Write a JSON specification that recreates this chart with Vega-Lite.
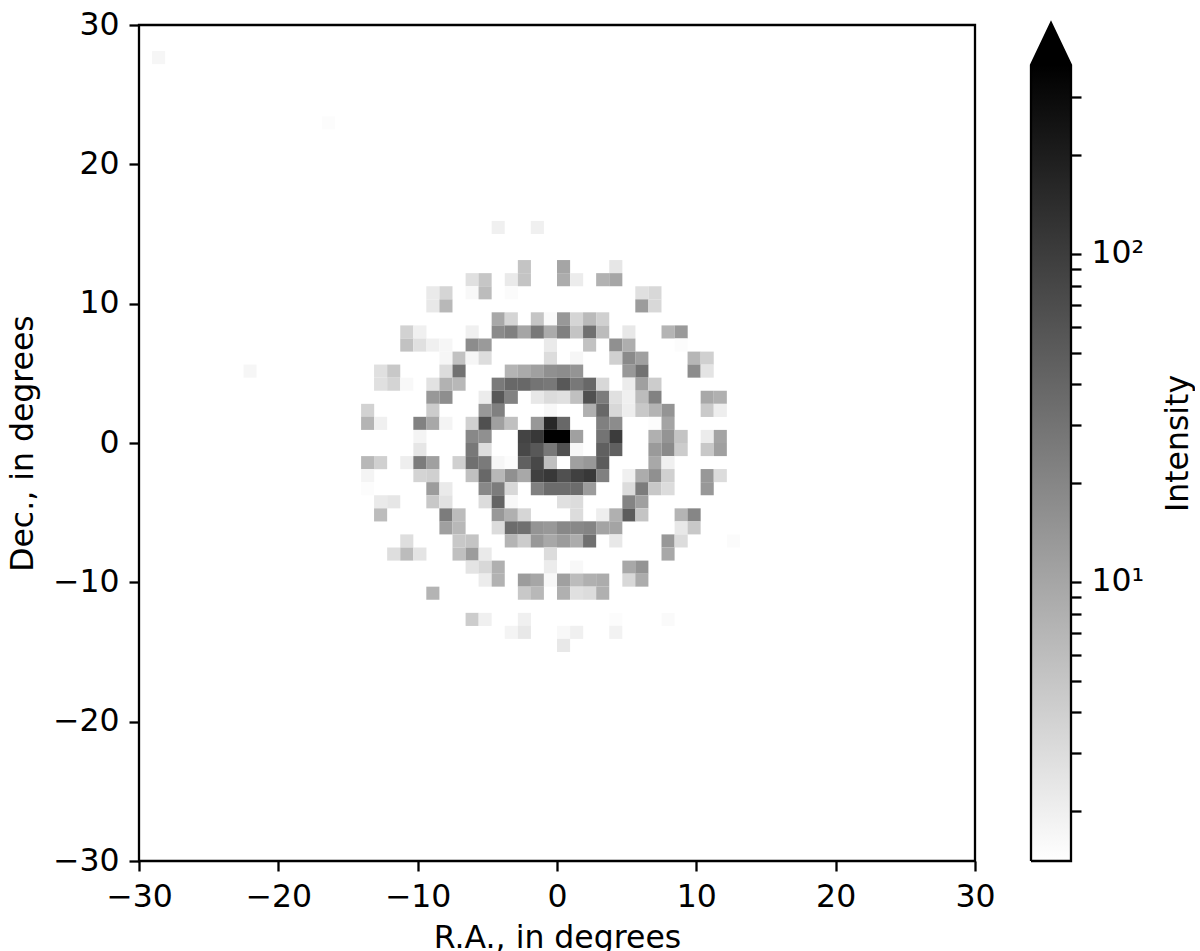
{"$schema":"https://vega.github.io/schema/vega-lite/v6.json","background":"white","padding":{"left":6,"top":7,"right":0,"bottom":0},"spacing":29,"config":{"font":"DejaVu Sans","view":{"stroke":null},"axis":{"labelFont":"DejaVu Sans","titleFont":"DejaVu Sans","labelFontSize":31.5,"titleFontSize":31.5,"labelColor":"#000000","titleColor":"#000000","titleFontWeight":"normal","tickColor":"#000000","domainColor":"#000000","tickWidth":2.3,"domainWidth":2.3,"tickSize":10,"grid":false,"labelPadding":10}},"hconcat":[{"width":836,"height":836,"view":{"stroke":"#000000","strokeWidth":2.3,"fill":"#ffffff"},"data":{"values":[
{"ra":-28.59,"dec":27.66,"i":1.72},{"ra":-16.41,"dec":22.97,"i":1.5},{"ra":-4.22,"dec":15.47,"i":1.96},{"ra":-1.41,"dec":15.47,"i":1.96},
{"ra":-2.34,"dec":12.66,"i":5.14},{"ra":0.47,"dec":12.66,"i":10.15},{"ra":4.22,"dec":12.66,"i":2.44},
{"ra":-6.09,"dec":11.72,"i":2.78},{"ra":-5.16,"dec":11.72,"i":4.92},{"ra":-3.28,"dec":11.72,"i":2.23},{"ra":-2.34,"dec":11.72,"i":5.14},{"ra":0.47,"dec":11.72,"i":8.7},{"ra":1.41,"dec":11.72,"i":2.14},{"ra":3.28,"dec":11.72,"i":7.63},{"ra":4.22,"dec":11.72,"i":9.93},
{"ra":-8.91,"dec":10.78,"i":2.23},{"ra":-7.97,"dec":10.78,"i":3.54},{"ra":-6.09,"dec":10.78,"i":1.64},{"ra":-5.16,"dec":10.78,"i":6.13},{"ra":-3.28,"dec":10.78,"i":1.55},{"ra":6.09,"dec":10.78,"i":2.78},{"ra":7.03,"dec":10.78,"i":3.31},
{"ra":-8.91,"dec":9.84,"i":2.33},{"ra":-7.97,"dec":9.84,"i":6.69},{"ra":6.09,"dec":9.84,"i":12.3},{"ra":7.03,"dec":9.84,"i":3.31},
{"ra":-4.22,"dec":8.91,"i":9.5},{"ra":-3.28,"dec":8.91,"i":3.54},{"ra":-1.41,"dec":8.91,"i":5.03},{"ra":-0.47,"dec":8.91,"i":1.57},{"ra":0.47,"dec":8.91,"i":13.5},{"ra":1.41,"dec":8.91,"i":3.54},{"ra":2.34,"dec":8.91,"i":6.4},{"ra":3.28,"dec":8.91,"i":3.95},
{"ra":-10.78,"dec":7.97,"i":3.78},{"ra":-9.84,"dec":7.97,"i":1.96},{"ra":-6.09,"dec":7.97,"i":1.96},{"ra":-4.22,"dec":7.97,"i":18.3},{"ra":-3.28,"dec":7.97,"i":22.8},{"ra":-2.34,"dec":7.97,"i":10.15},{"ra":-1.41,"dec":7.97,"i":27.1},{"ra":-0.47,"dec":7.97,"i":8.9},{"ra":0.47,"dec":7.97,"i":22.8},{"ra":1.41,"dec":7.97,"i":5.14},{"ra":2.34,"dec":7.97,"i":32.3},{"ra":3.28,"dec":7.97,"i":6.13},{"ra":5.16,"dec":7.97,"i":2.33},{"ra":7.97,"dec":7.97,"i":7.31},{"ra":8.91,"dec":7.97,"i":12.9},
{"ra":-10.78,"dec":7.03,"i":5.37},{"ra":-9.84,"dec":7.03,"i":2.78},{"ra":-8.91,"dec":7.03,"i":1.96},{"ra":-7.97,"dec":7.03,"i":1.72},{"ra":-6.09,"dec":7.03,"i":17.5},{"ra":-5.16,"dec":7.03,"i":12.9},{"ra":-0.47,"dec":7.03,"i":2.23},{"ra":2.34,"dec":7.03,"i":5.37},{"ra":4.22,"dec":7.03,"i":16},{"ra":5.16,"dec":7.03,"i":8.33},{"ra":8.91,"dec":7.03,"i":1.5},
{"ra":-7.97,"dec":6.09,"i":1.72},{"ra":-7.03,"dec":6.09,"i":5.37},{"ra":-6.09,"dec":6.09,"i":1.72},{"ra":-5.16,"dec":6.09,"i":2.97},{"ra":-0.47,"dec":6.09,"i":3.03},{"ra":1.41,"dec":6.09,"i":1.72},{"ra":4.22,"dec":6.09,"i":3.95},{"ra":5.16,"dec":6.09,"i":18.3},{"ra":6.09,"dec":6.09,"i":11.3},{"ra":9.84,"dec":6.09,"i":6.99},{"ra":10.78,"dec":6.09,"i":3.95},
{"ra":-22.03,"dec":5.16,"i":1.72},{"ra":-12.66,"dec":5.16,"i":2.78},{"ra":-11.72,"dec":5.16,"i":4.71},{"ra":-7.97,"dec":5.16,"i":3.03},{"ra":-7.03,"dec":5.16,"i":30.9},{"ra":-3.28,"dec":5.16,"i":7.31},{"ra":-2.34,"dec":5.16,"i":9.09},{"ra":-1.41,"dec":5.16,"i":11.3},{"ra":-0.47,"dec":5.16,"i":16},{"ra":0.47,"dec":5.16,"i":17.5},{"ra":1.41,"dec":5.16,"i":14.7},{"ra":5.16,"dec":5.16,"i":13.5},{"ra":6.09,"dec":5.16,"i":30.9},{"ra":9.84,"dec":5.16,"i":17.5},{"ra":10.78,"dec":5.16,"i":2.55},
{"ra":-12.66,"dec":4.22,"i":2.78},{"ra":-11.72,"dec":4.22,"i":3.62},{"ra":-10.78,"dec":4.22,"i":1.64},{"ra":-8.91,"dec":4.22,"i":2.66},{"ra":-7.97,"dec":4.22,"i":7.63},{"ra":-7.03,"dec":4.22,"i":6.69},{"ra":-4.22,"dec":4.22,"i":26},{"ra":-3.28,"dec":4.22,"i":38.5},{"ra":-2.34,"dec":4.22,"i":38.5},{"ra":-1.41,"dec":4.22,"i":29.6},{"ra":-0.47,"dec":4.22,"i":27.1},{"ra":0.47,"dec":4.22,"i":54.8},{"ra":1.41,"dec":4.22,"i":27.1},{"ra":2.34,"dec":4.22,"i":38.5},{"ra":3.28,"dec":4.22,"i":3.31},{"ra":5.16,"dec":4.22,"i":2.14},{"ra":6.09,"dec":4.22,"i":11.3},{"ra":7.03,"dec":4.22,"i":4.31},
{"ra":-8.91,"dec":3.28,"i":13.5},{"ra":-7.97,"dec":3.28,"i":16.7},{"ra":-5.16,"dec":3.28,"i":2.14},{"ra":-4.22,"dec":3.28,"i":54.8},{"ra":-3.28,"dec":3.28,"i":21.8},{"ra":-1.41,"dec":3.28,"i":2.33},{"ra":-0.47,"dec":3.28,"i":3.03},{"ra":0.47,"dec":3.28,"i":2.78},{"ra":1.41,"dec":3.28,"i":5.61},{"ra":2.34,"dec":3.28,"i":65.5},{"ra":3.28,"dec":3.28,"i":24.9},{"ra":4.22,"dec":3.28,"i":2.78},{"ra":5.16,"dec":3.28,"i":1.96},{"ra":6.09,"dec":3.28,"i":6.13},{"ra":7.03,"dec":3.28,"i":21.8},{"ra":10.78,"dec":3.28,"i":9.5},{"ra":11.72,"dec":3.28,"i":7.97},
{"ra":-13.59,"dec":2.34,"i":3.78},{"ra":-8.91,"dec":2.34,"i":4.31},{"ra":-5.16,"dec":2.34,"i":13.5},{"ra":-4.22,"dec":2.34,"i":22.8},{"ra":-0.47,"dec":2.34,"i":1.64},{"ra":2.34,"dec":2.34,"i":7.97},{"ra":3.28,"dec":2.34,"i":38.5},{"ra":4.22,"dec":2.34,"i":3.31},{"ra":5.16,"dec":2.34,"i":2.05},{"ra":6.09,"dec":2.34,"i":4.71},{"ra":7.03,"dec":2.34,"i":7.31},{"ra":7.97,"dec":2.34,"i":14.7},{"ra":10.78,"dec":2.34,"i":4.51},{"ra":11.72,"dec":2.34,"i":2.05},
{"ra":-13.59,"dec":1.41,"i":7.31},{"ra":-12.66,"dec":1.41,"i":1.96},{"ra":-9.84,"dec":1.41,"i":21.8},{"ra":-8.91,"dec":1.41,"i":9.5},{"ra":-7.97,"dec":1.41,"i":1.79},{"ra":-6.09,"dec":1.41,"i":3.95},{"ra":-5.16,"dec":1.41,"i":65.5},{"ra":-4.22,"dec":1.41,"i":11.3},{"ra":-3.28,"dec":1.41,"i":5.61},{"ra":-1.41,"dec":1.41,"i":13.5},{"ra":-0.47,"dec":1.41,"i":157},{"ra":0.47,"dec":1.41,"i":38.5},{"ra":3.28,"dec":1.41,"i":22.8},{"ra":4.22,"dec":1.41,"i":17.5},{"ra":7.03,"dec":1.41,"i":1.5},{"ra":7.97,"dec":1.41,"i":10.4},
{"ra":-9.84,"dec":0.47,"i":1.79},{"ra":-6.09,"dec":0.47,"i":19.1},{"ra":-5.16,"dec":0.47,"i":16},{"ra":-2.34,"dec":0.47,"i":85},{"ra":-1.41,"dec":0.47,"i":111},{"ra":-0.47,"dec":0.47,"i":377},{"ra":0.47,"dec":0.47,"i":377},{"ra":1.41,"dec":0.47,"i":11.3},{"ra":3.28,"dec":0.47,"i":29.6},{"ra":4.22,"dec":0.47,"i":102},{"ra":7.03,"dec":0.47,"i":7.97},{"ra":7.97,"dec":0.47,"i":14.7},{"ra":8.91,"dec":0.47,"i":5.14},{"ra":10.78,"dec":0.47,"i":2.14},{"ra":11.72,"dec":0.47,"i":10.4},
{"ra":-9.84,"dec":-0.47,"i":2.44},{"ra":-6.09,"dec":-0.47,"i":27.1},{"ra":-5.16,"dec":-0.47,"i":2.97},{"ra":-2.34,"dec":-0.47,"i":78},{"ra":-1.41,"dec":-0.47,"i":54.8},{"ra":-0.47,"dec":-0.47,"i":27.1},{"ra":0.47,"dec":-0.47,"i":65.5},{"ra":1.41,"dec":-0.47,"i":1.64},{"ra":3.28,"dec":-0.47,"i":45.9},{"ra":4.22,"dec":-0.47,"i":45.9},{"ra":7.03,"dec":-0.47,"i":12.9},{"ra":7.97,"dec":-0.47,"i":18.3},{"ra":8.91,"dec":-0.47,"i":4.31},{"ra":10.78,"dec":-0.47,"i":4.71},{"ra":11.72,"dec":-0.47,"i":11.3},
{"ra":-13.59,"dec":-1.41,"i":6.69},{"ra":-12.66,"dec":-1.41,"i":3.95},{"ra":-10.78,"dec":-1.41,"i":2.05},{"ra":-9.84,"dec":-1.41,"i":24.9},{"ra":-8.91,"dec":-1.41,"i":11.3},{"ra":-7.03,"dec":-1.41,"i":3.95},{"ra":-6.09,"dec":-1.41,"i":32.3},{"ra":-5.16,"dec":-1.41,"i":26},{"ra":-4.22,"dec":-1.41,"i":1.72},{"ra":-3.28,"dec":-1.41,"i":1.5},{"ra":-2.34,"dec":-1.41,"i":45.9},{"ra":-1.41,"dec":-1.41,"i":78},{"ra":-0.47,"dec":-1.41,"i":5.61},{"ra":1.41,"dec":-1.41,"i":11.3},{"ra":2.34,"dec":-1.41,"i":13.5},{"ra":3.28,"dec":-1.41,"i":50.2},{"ra":7.03,"dec":-1.41,"i":9.5},{"ra":7.97,"dec":-1.41,"i":1.96},
{"ra":-13.59,"dec":-2.34,"i":1.79},{"ra":-9.84,"dec":-2.34,"i":3.62},{"ra":-8.91,"dec":-2.34,"i":3.95},{"ra":-6.09,"dec":-2.34,"i":5.61},{"ra":-5.16,"dec":-2.34,"i":38.5},{"ra":-4.22,"dec":-2.34,"i":6.69},{"ra":-3.28,"dec":-2.34,"i":16},{"ra":-2.34,"dec":-2.34,"i":9.5},{"ra":-1.41,"dec":-2.34,"i":93},{"ra":-0.47,"dec":-2.34,"i":111},{"ra":0.47,"dec":-2.34,"i":65.5},{"ra":1.41,"dec":-2.34,"i":93},{"ra":2.34,"dec":-2.34,"i":111},{"ra":3.28,"dec":-2.34,"i":22.8},{"ra":5.16,"dec":-2.34,"i":1.96},{"ra":6.09,"dec":-2.34,"i":8.7},{"ra":7.03,"dec":-2.34,"i":16},{"ra":7.97,"dec":-2.34,"i":3.95},{"ra":10.78,"dec":-2.34,"i":13.5},{"ra":11.72,"dec":-2.34,"i":3.03},
{"ra":-13.59,"dec":-3.28,"i":1.5},{"ra":-8.91,"dec":-3.28,"i":12.3},{"ra":-7.97,"dec":-3.28,"i":2.23},{"ra":-5.16,"dec":-3.28,"i":19.1},{"ra":-4.22,"dec":-3.28,"i":24.9},{"ra":-3.28,"dec":-3.28,"i":3.31},{"ra":-1.41,"dec":-3.28,"i":22.8},{"ra":-0.47,"dec":-3.28,"i":35.2},{"ra":0.47,"dec":-3.28,"i":35.2},{"ra":1.41,"dec":-3.28,"i":35.2},{"ra":2.34,"dec":-3.28,"i":12.3},{"ra":5.16,"dec":-3.28,"i":3.03},{"ra":6.09,"dec":-3.28,"i":24.9},{"ra":7.03,"dec":-3.28,"i":4.71},{"ra":7.97,"dec":-3.28,"i":3.03},{"ra":10.78,"dec":-3.28,"i":13.5},
{"ra":-12.66,"dec":-4.22,"i":2.23},{"ra":-11.72,"dec":-4.22,"i":2.44},{"ra":-8.91,"dec":-4.22,"i":4.71},{"ra":-7.97,"dec":-4.22,"i":2.66},{"ra":-5.16,"dec":-4.22,"i":3.03},{"ra":-4.22,"dec":-4.22,"i":42},{"ra":-3.28,"dec":-4.22,"i":1.64},{"ra":0.47,"dec":-4.22,"i":2.78},{"ra":1.41,"dec":-4.22,"i":3.03},{"ra":5.16,"dec":-4.22,"i":20.8},{"ra":6.09,"dec":-4.22,"i":11.3},
{"ra":-12.66,"dec":-5.16,"i":6.13},{"ra":-7.97,"dec":-5.16,"i":24.9},{"ra":-7.03,"dec":-5.16,"i":6.13},{"ra":-4.22,"dec":-5.16,"i":13.5},{"ra":-3.28,"dec":-5.16,"i":7.97},{"ra":-2.34,"dec":-5.16,"i":3.46},{"ra":1.41,"dec":-5.16,"i":3.03},{"ra":3.28,"dec":-5.16,"i":2.05},{"ra":4.22,"dec":-5.16,"i":7.97},{"ra":5.16,"dec":-5.16,"i":50.2},{"ra":6.09,"dec":-5.16,"i":5.14},{"ra":8.91,"dec":-5.16,"i":7.31},{"ra":9.84,"dec":-5.16,"i":20},
{"ra":-7.97,"dec":-6.09,"i":11.3},{"ra":-7.03,"dec":-6.09,"i":6.69},{"ra":-4.22,"dec":-6.09,"i":3.03},{"ra":-3.28,"dec":-6.09,"i":35.2},{"ra":-2.34,"dec":-6.09,"i":32.3},{"ra":-1.41,"dec":-6.09,"i":14.7},{"ra":-0.47,"dec":-6.09,"i":13.5},{"ra":0.47,"dec":-6.09,"i":19.1},{"ra":1.41,"dec":-6.09,"i":19.1},{"ra":2.34,"dec":-6.09,"i":20.8},{"ra":3.28,"dec":-6.09,"i":10.4},{"ra":4.22,"dec":-6.09,"i":10.4},{"ra":8.91,"dec":-6.09,"i":2.33},{"ra":9.84,"dec":-6.09,"i":4.71},
{"ra":-10.78,"dec":-7.03,"i":2.9},{"ra":-7.03,"dec":-7.03,"i":4.71},{"ra":-6.09,"dec":-7.03,"i":5.14},{"ra":-3.28,"dec":-7.03,"i":7.31},{"ra":-2.34,"dec":-7.03,"i":4.31},{"ra":-1.41,"dec":-7.03,"i":13.5},{"ra":-0.47,"dec":-7.03,"i":9.5},{"ra":0.47,"dec":-7.03,"i":12.3},{"ra":1.41,"dec":-7.03,"i":8.7},{"ra":2.34,"dec":-7.03,"i":32.3},{"ra":4.22,"dec":-7.03,"i":2.33},{"ra":7.97,"dec":-7.03,"i":13.5},{"ra":8.91,"dec":-7.03,"i":3.03},{"ra":12.66,"dec":-7.03,"i":1.55},
{"ra":-11.72,"dec":-7.97,"i":2.9},{"ra":-10.78,"dec":-7.97,"i":6.13},{"ra":-9.84,"dec":-7.97,"i":2.55},{"ra":-7.03,"dec":-7.97,"i":5.61},{"ra":-6.09,"dec":-7.97,"i":12.3},{"ra":-5.16,"dec":-7.97,"i":2.23},{"ra":-0.47,"dec":-7.97,"i":3.03},{"ra":7.97,"dec":-7.97,"i":9.5},
{"ra":-6.09,"dec":-8.91,"i":2.55},{"ra":-5.16,"dec":-8.91,"i":3.31},{"ra":-4.22,"dec":-8.91,"i":7.97},{"ra":-0.47,"dec":-8.91,"i":2.14},{"ra":1.41,"dec":-8.91,"i":1.64},{"ra":5.16,"dec":-8.91,"i":9.5},{"ra":6.09,"dec":-8.91,"i":14.7},
{"ra":-5.16,"dec":-9.84,"i":2.14},{"ra":-4.22,"dec":-9.84,"i":7.63},{"ra":-2.34,"dec":-9.84,"i":12.3},{"ra":-1.41,"dec":-9.84,"i":9.93},{"ra":-0.47,"dec":-9.84,"i":1.64},{"ra":0.47,"dec":-9.84,"i":11.3},{"ra":1.41,"dec":-9.84,"i":6.13},{"ra":2.34,"dec":-9.84,"i":7.97},{"ra":3.28,"dec":-9.84,"i":8.7},{"ra":5.16,"dec":-9.84,"i":3.31},{"ra":6.09,"dec":-9.84,"i":8.7},
{"ra":-8.91,"dec":-10.78,"i":7.31},{"ra":-2.34,"dec":-10.78,"i":4.71},{"ra":-1.41,"dec":-10.78,"i":6.69},{"ra":0.47,"dec":-10.78,"i":7.97},{"ra":1.41,"dec":-10.78,"i":2.78},{"ra":2.34,"dec":-10.78,"i":3.03},{"ra":3.28,"dec":-10.78,"i":7.97},
{"ra":-6.09,"dec":-12.66,"i":4.31},{"ra":-5.16,"dec":-12.66,"i":1.96},{"ra":-2.34,"dec":-12.66,"i":1.96},{"ra":4.22,"dec":-12.66,"i":1.5},{"ra":7.97,"dec":-12.66,"i":1.57},
{"ra":-3.28,"dec":-13.59,"i":1.79},{"ra":-2.34,"dec":-13.59,"i":2.33},{"ra":0.47,"dec":-13.59,"i":1.64},{"ra":1.41,"dec":-13.59,"i":1.96},{"ra":4.22,"dec":-13.59,"i":1.87},
{"ra":0.47,"dec":-14.53,"i":2.33}
]},"mark":{"type":"rect","width":13.1,"height":13.1},"encoding":{"x":{"field":"ra","type":"quantitative","scale":{"domain":[-30,30],"nice":false},"axis":{"title":"R.A., in degrees","values":[-30,-20,-10,0,10,20,30],"domain":false,"labelFlush":false,"titlePadding":10}},"y":{"field":"dec","type":"quantitative","scale":{"domain":[-30,30],"nice":false},"axis":{"title":"Dec., in degrees","values":[-30,-20,-10,0,10,20,30],"domain":false,"labelFlush":false,"titlePadding":13}},"color":{"field":"i","type":"quantitative","scale":{"type":"log","domain":[1.41,377],"range":["#ffffff","#000000"],"interpolate":"rgb","clamp":true,"nice":false},"legend":null}}},{"width":40,"height":836,"layer":[{"data":{"values":[{"left":0,"right":1,"low":1.41,"high":377}]},"mark":{"type":"rect","color":{"gradient":"linear","x1":0,"y1":1,"x2":0,"y2":0,"stops":[{"offset":0,"color":"#ffffff"},{"offset":1,"color":"#000000"}]}},"encoding":{"x":{"field":"left","type":"quantitative","scale":{"domain":[0,1],"nice":false},"axis":null},"x2":{"field":"right"},"y":{"field":"low","type":"quantitative","scale":{"type":"log","domain":[1.41,499],"nice":false},"axis":{"orient":"right","title":"Intensity","titleAngle":270,"titlePadding":51,"values":[2,3,4,5,6,7,8,9,10,20,30,40,50,60,70,80,90,100,200,300],"domain":false,"labelOverlap":false,"labelFlush":false,"labelExpr":"datum.value==10?'10¹':datum.value==100?'10²':''"}},"y2":{"field":"high"}}},{"data":{"values":[{"pos":0,"val":377,"base":377},{"pos":0.5,"val":506,"base":377},{"pos":1,"val":377,"base":377}]},"mark":{"type":"area","color":"#000000","clip":false},"encoding":{"x":{"field":"pos","type":"quantitative","scale":{"domain":[0,1],"nice":false},"axis":null},"y":{"field":"val","type":"quantitative","scale":{"type":"log","domain":[1.41,499],"nice":false}},"y2":{"field":"base"}}},{"data":{"values":[{"n":1,"pos":0,"val":1.41},{"n":2,"pos":1,"val":1.41},{"n":3,"pos":1,"val":377},{"n":4,"pos":0.5,"val":506},{"n":5,"pos":0,"val":377},{"n":6,"pos":0,"val":1.41}]},"mark":{"type":"line","color":"#000000","strokeWidth":2.3,"clip":false},"encoding":{"order":{"field":"n","type":"quantitative"},"x":{"field":"pos","type":"quantitative","scale":{"domain":[0,1],"nice":false},"axis":null},"y":{"field":"val","type":"quantitative","scale":{"type":"log","domain":[1.41,499],"nice":false}}}}]}]}
